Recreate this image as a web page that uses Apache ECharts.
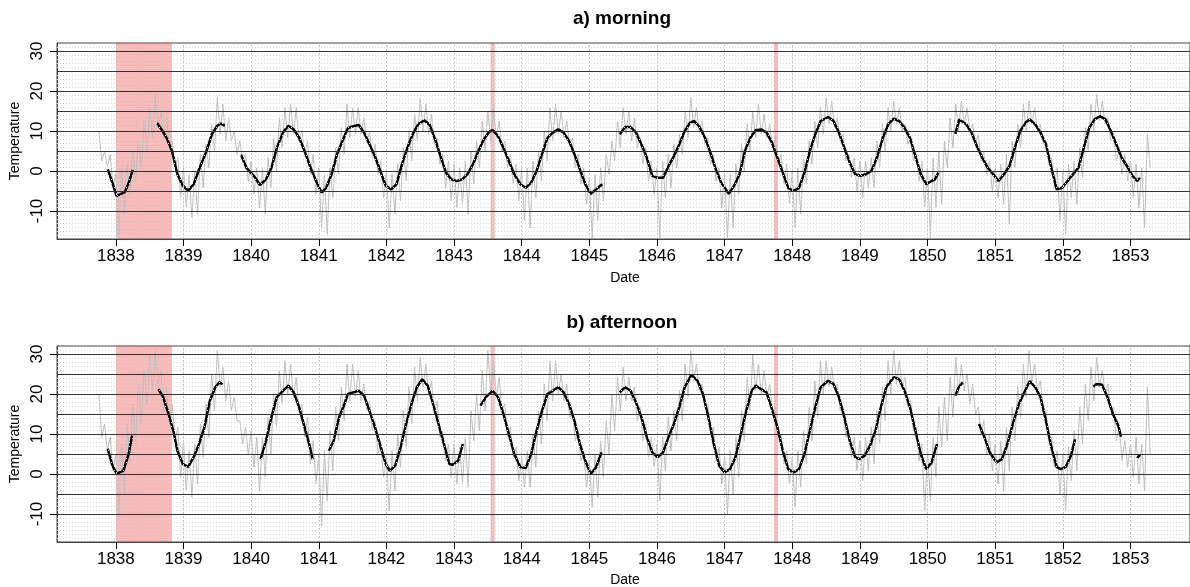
<!DOCTYPE html>
<html>
<head>
<meta charset="utf-8">
<script src="https://cdn.jsdelivr.net/npm/echarts@6/dist/echarts.min.js"></script>
<style>
html, body { margin: 0; padding: 0; background: #fff; }
#chart { width: 1190px; height: 587px; }
</style>
</head>
<body>
<div id="chart"></div>
<script>
// axis ticks
var yearTicks = [1838, 1839, 1840, 1841, 1842, 1843, 1844, 1845, 1846, 1847, 1848, 1849, 1850, 1851, 1852, 1853];
var tempTicks = [-10, 0, 10, 20, 30];

// shaded periods (years)
var bands = [[1838.0, 1838.83], [1843.54, 1843.60], [1847.73, 1847.79]];

// raw series: monthly upper / lower reading of the grey trace, first month 1837.75
var grayStart = 1837.75;
var morningHi = [10, 5, 4,
  -0.8, 0.8, 1.7, 5, 7.5, 12.5, 15.8, 19.2, 15, 13.3, 7.5, 3.3,
  0.8, -0.8, 0, 4.2, 6.7, 11.7, 18.3, 16.7, 13.3, 10, 7.5, 4.2,
  2.5, 0.8, 0.8, 3.3, 8.3, 13.3, 15.8, 16.7, 15.8, 10, 7.5, 4.2,
  0.8, -0.8, 0.8, 5.8, 10.8, 16.7, 15.8, 15.8, 13.3, 10, 6.7, 2.5,
  0, -0.8, 1.7, 5.8, 10, 14.2, 18.3, 16.7, 14.2, 8.3, 4.2, 2.5,
  1.7, 0.8, 2.5, 5, 7.5, 12.5, 15, 15.8, 12.5, 7.5, 4.2, 1.7,
  0.8, 0.8, 2.5, 5, 10, 15.8, 16.7, 15, 12.5, 8.3, 4.2, 0.8,
  -1.7, -0.8, 0.8, 4.2, 7.5, 12.5, 15.8, 15, 13.3, 8.3, 5.8, 2.5,
  0.8, 2.5, 4.2, 6.7, 9.2, 15, 18.3, 15.8, 12.5, 8.3, 4.2, 0.8,
  -0.8, -0.8, 1.7, 6.7, 11.7, 15, 16.7, 14.2, 11.7, 8.3, 4.2, 1.7,
  0, 0.8, 3.3, 7.5, 12.5, 15.8, 18.3, 17.5, 13.3, 9.2, 4.2, 3.3,
  2.5, 2.5, 3.3, 7.5, 11.7, 15.8, 17.5, 15.8, 11.7, 8.3, 4.2, 2.5,
  0.8, 3.3, 5, 7.5, 13.3, 16.7, 17.5, 15.8, 11.7, 9.2, 5, 2.5,
  0.8, 1.7, 4.2, 7.5, 11.7, 16.7, 17.5, 15.8, 11.7, 7.5, 3.3, 0.8,
  0, 1.7, 2.5, 5.8, 10.8, 16.7, 19.2, 17.5, 13.3, 8.3, 5, 4.2,
  2.5, 1.7, 0.8, 9.2];
var morningLo = [2.5, 1, -4,
  -16, -10.8, -5.8, -2.5, 0.8, 5, 8.3, 10.8, 8.3, 5.8, 0.8, -6.7,
  -9.2, -11.7, -10.8, -4.2, 0.8, 5, 9.2, 7.5, 7.5, 4.2, 2.5, -2.5,
  -5.8, -9.2, -10.8, -4.2, 0, 5.8, 8.3, 9.2, 7.5, 4.2, -0.8, -5.8,
  -14.2, -15.8, -6.7, -0.8, 4.2, 8.3, 9.2, 9.2, 6.7, 3.3, -0.8, -6.7,
  -14.2, -10.8, -7.5, -2.5, 2.5, 7.5, 10, 9.2, 6.7, 1.7, -4.2, -7.5,
  -9.2, -8.3, -10.8, -3.3, 0.8, 5, 7.5, 8.3, 5, 0.8, -3.3, -7.5,
  -12.5, -14.2, -6.7, -2.5, 2.5, 7.5, 9.2, 8.3, 6.7, 0.8, -3.3, -8.3,
  -16.7, -12.5, -7.5, -0.8, 2.5, 5.8, 9.2, 7.5, 5.8, 1.7, -2.5, -5.8,
  -16.7, -6.7, -4.2, 0.8, 4.2, 8.3, 10.8, 10, 6.7, 1.7, -2.5, -9.2,
  -16.7, -14.2, -5.8, 0, 5, 8.3, 9.2, 8.3, 5.8, 1.7, -3.3, -8.3,
  -14.2, -10.8, -3.3, 1.7, 5.8, 9.2, 11.7, 10.8, 7.5, 2.5, -1.7, -5,
  -6.7, -4.2, -4.2, 0.8, 5, 10, 11.7, 10, 6.7, 2.5, -2.5, -9.2,
  -16.7, -9.2, -8.3, 0.8, 5.8, 10, 11.7, 10, 6.7, 2.5, -0.8, -5,
  -6.7, -8.3, -13.3, 0.8, 5.8, 10, 11.7, 10, 6.7, 1.7, -4.2, -12.5,
  -15.8, -6.7, -8.3, -1.7, 5, 10, 12.5, 11.7, 7.5, 2.5, -0.8, -2.5,
  -6.7, -9.2, -14.2, 0.8];
var afternoonHi = [20, 12.5, 9.2,
  5, 7.5, 12.5, 17.5, 22.5, 25.8, 30, 30.8, 25.8, 21.7, 17.5, 11.7,
  8.3, 5.8, 7.5, 12.5, 17.5, 25, 30.8, 26.7, 23.3, 19.2, 13.3, 11.7,
  10.8, 9.2, 9.2, 14.2, 20, 25.8, 28.3, 27.5, 24.2, 17.5, 14.2, 8.3,
  5, 5.8, 10.8, 16.7, 21.7, 27.5, 27.5, 25.8, 22.5, 18.3, 13.3, 7.5,
  4.2, 5.8, 10, 15.8, 21.7, 26.7, 29.2, 27.5, 23.3, 18.3, 10.8, 7.5,
  7.5, 6.7, 9.2, 15.8, 20, 25.8, 30.8, 28.3, 24.2, 17.5, 11.7, 6.7,
  4.2, 5.8, 10, 15.8, 22.5, 28.3, 28.3, 25, 22.5, 15.8, 10.8, 5,
  3.3, 5, 8.3, 13.3, 20, 24.2, 26.7, 24.2, 21.7, 16.7, 12.5, 9.2,
  7.5, 9.2, 14.2, 15.8, 20.8, 27.5, 30.8, 27.5, 22.5, 17.5, 11.7, 6.7,
  4.2, 5.8, 9.2, 15.8, 24.2, 30, 27.5, 25.8, 22.5, 16.7, 10, 5.8,
  4.2, 5.8, 10.8, 16.7, 23.3, 28.3, 28.3, 26.7, 22.5, 16.7, 10.8, 9.2,
  8.3, 9.2, 11.7, 15.8, 21.7, 28.3, 30.8, 28.3, 24.2, 18.3, 11.7, 7.5,
  5.8, 9.2, 16.7, 19.2, 24.2, 29.2, 27.5, 25, 22.5, 16.7, 13.3, 10,
  7.5, 8.3, 11.7, 16.7, 21.7, 27.5, 30.8, 27.5, 23.3, 15.8, 9.2, 5.8,
  5, 6.7, 10.8, 16.7, 22.5, 26.7, 29.2, 25.8, 22.5, 16.7, 11.7, 8.3,
  7.5, 9.2, 7.5, 21.7];
var afternoonLo = [9.2, 5.8, 0.8,
  -10.8, -5, 2.5, 7.5, 12.5, 17.5, 20.8, 22.5, 15.8, 12.5, 8.3, -0.8,
  -4.2, -5.8, -2.5, 4.2, 9.2, 15.8, 21.7, 18.3, 15.8, 13.3, 7.5, 5,
  1.7, -4.2, -0.8, 5, 11.7, 17.5, 20, 19.2, 15.8, 9.2, 2.5, -2.5,
  -13.3, -6.7, 0.8, 8.3, 13.3, 18.3, 19.2, 18.3, 15.8, 10.8, 5, -0.8,
  -9.2, -4.2, 1.7, 6.7, 12.5, 18.3, 21.7, 20, 15, 9.2, 3.3, -0.8,
  -2.5, -2.5, -3.3, 8.3, 10.8, 15.8, 20, 19.2, 15.8, 9.2, 4.2, -1.7,
  -3.3, -3.3, 1.7, 7.5, 13.3, 18.3, 20, 18.3, 14.2, 8.3, 3.3, -3.3,
  -8.3, -5.8, -0.8, 5, 10.8, 15.8, 18.3, 18.3, 13.3, 8.3, 4.2, 1.7,
  -6.7, 0.8, 5.8, 8.3, 13.3, 19.2, 23.3, 20.8, 16.7, 10, 3.3, -2.5,
  -10, -5, -0.8, 8.3, 15.8, 20.8, 20, 19.2, 15, 9.2, 2.5, -2.5,
  -8.3, -3.3, 2.5, 8.3, 14.2, 20, 21.7, 20.8, 15.8, 9.2, 4.2, 0.8,
  -1.7, 0.8, 2.5, 7.5, 13.3, 20, 22.5, 21.7, 16.7, 10.8, 3.3, -9.2,
  -6.7, -0.8, 6.7, 8.3, 14.2, 20, 20.8, 17.5, 15, 10, 5, 0.8,
  -2.5, -4.2, 0.8, 8.3, 14.2, 19.2, 22.5, 20.8, 16.7, 8.3, 1.7, -5,
  -9.2, -1.7, 0.8, 7.5, 13.3, 18.3, 21.7, 20, 15.8, 8.3, 3.3, 1.7,
  -0.8, -2.5, -4.2, 5];

// smoothed series, one array of [year, temp] per unbroken piece
var morningSmooth = [
  [[1837.88, 0.4], [1837.95, -3], [1838.01, -6.2], [1838.07, -5.8], [1838.13, -5.3], [1838.19, -3], [1838.25, 0.3]],
  [[1838.61, 12], [1838.69, 10], [1838.75, 8.3], [1838.83, 5], [1838.91, -0.8], [1838.99, -3.7], [1839.07, -4.9], [1839.15, -3.3],
   [1839.24, 0.8], [1839.34, 5], [1839.42, 9.2], [1839.50, 11.3], [1839.55, 11.9], [1839.61, 11.3]],
  [[1839.85, 4.1], [1839.93, 0.8], [1840.04, -1.2], [1840.13, -3.5], [1840.22, -2.1], [1840.30, 0.8], [1840.38, 5.8], [1840.47, 9.6],
   [1840.55, 11.3], [1840.63, 10.4], [1840.71, 8.3], [1840.79, 5], [1840.87, 1.2], [1840.95, -2.1], [1841.04, -5.4], [1841.11, -4.2],
   [1841.19, -0.8], [1841.27, 4.2], [1841.35, 7.5], [1841.43, 10.7], [1841.51, 11.2], [1841.59, 11.5], [1841.67, 9.6], [1841.75, 6.7],
   [1841.83, 3.7], [1841.91, 0], [1841.99, -3.7], [1842.07, -4.6], [1842.15, -3.3], [1842.23, 1.7], [1842.31, 5.8], [1842.39, 9.2],
   [1842.47, 11.7], [1842.56, 12.7], [1842.64, 11.5], [1842.72, 7.9], [1842.80, 3.7], [1842.88, -0.4], [1842.96, -2.1], [1843.04, -2.5],
   [1843.12, -2.1], [1843.20, -0.8], [1843.28, 1.7], [1843.36, 5], [1843.44, 7.9], [1843.52, 9.8], [1843.57, 10.2], [1843.65, 8.7],
   [1843.73, 5.8], [1843.81, 2.5], [1843.89, -0.8], [1843.98, -3.3], [1844.06, -4.2], [1844.14, -2.9], [1844.22, 0], [1844.30, 4.2],
   [1844.38, 8.3], [1844.46, 9.6], [1844.54, 10.4], [1844.62, 9.6], [1844.70, 7.5], [1844.78, 4.2], [1844.86, 0.4], [1844.94, -3.3],
   [1845.02, -5.7], [1845.10, -4.6], [1845.19, -3.3]],
  [[1845.45, 9.2], [1845.53, 11], [1845.61, 11], [1845.69, 9.6], [1845.77, 6.7], [1845.85, 3.3], [1845.93, -1.2], [1846.01, -1.7],
   [1846.09, -1.7], [1846.17, 1.2], [1846.25, 3.7], [1846.33, 6.7], [1846.41, 10], [1846.49, 12.1], [1846.55, 12.5], [1846.63, 11],
   [1846.71, 8.3], [1846.79, 4.6], [1846.87, 0.4], [1846.95, -2.9], [1847.06, -5.7], [1847.14, -3.7], [1847.22, -0.8], [1847.30, 5],
   [1847.38, 8.3], [1847.46, 10.2], [1847.54, 10.4], [1847.62, 9.6], [1847.70, 7.1], [1847.78, 3.3], [1847.86, -0.4], [1847.94, -4.2],
   [1848.02, -5], [1848.10, -4.2], [1848.18, -0.4], [1848.26, 5], [1848.34, 9.2], [1848.42, 12.5], [1848.53, 13.5], [1848.61, 12.5],
   [1848.69, 9.6], [1848.77, 5.8], [1848.85, 2.1], [1848.93, -0.8], [1849.01, -1.2], [1849.09, -0.8], [1849.17, 0], [1849.25, 3.3],
   [1849.34, 8.3], [1849.42, 11.7], [1849.50, 13.1], [1849.58, 12.5], [1849.66, 10.8], [1849.74, 8.3], [1849.82, 3.7], [1849.90, -0.8],
   [1849.98, -3.3], [1850.06, -2.5], [1850.11, -2.1], [1850.16, -0.4]],
  [[1850.41, 9.3], [1850.47, 12.9], [1850.57, 11.7], [1850.65, 9.6], [1850.73, 6.2], [1850.81, 3.3], [1850.89, 0.8], [1850.97, -0.8],
   [1851.05, -2.5], [1851.13, -0.8], [1851.21, 1.2], [1851.29, 5.8], [1851.37, 10], [1851.45, 12.1], [1851.51, 12.9], [1851.59, 11.7],
   [1851.67, 9.6], [1851.75, 6.7], [1851.83, 0.8], [1851.91, -4.6], [1851.99, -4.2], [1852.07, -2.5], [1852.15, -0.8], [1852.23, 0.8],
   [1852.31, 5.8], [1852.39, 10.8], [1852.47, 12.9], [1852.55, 13.7], [1852.63, 12.9], [1852.71, 10], [1852.79, 6.7], [1852.87, 3.3],
   [1852.95, 1.2], [1853.03, -1.2], [1853.10, -2.5], [1853.14, -1.7]]
];
var afternoonSmooth = [
  [[1837.88, 6.3], [1837.95, 2.1], [1838.01, 0.1], [1838.11, 0.8], [1838.19, 5], [1838.24, 9.6]],
  [[1838.63, 21.2], [1838.70, 19.2], [1838.78, 15], [1838.85, 10.8], [1838.91, 5.8], [1838.99, 2.5], [1839.07, 1.8], [1839.15, 4.2],
   [1839.23, 7.5], [1839.31, 11.7], [1839.39, 18.3], [1839.47, 21.7], [1839.53, 22.9], [1839.58, 22.5]],
  [[1840.14, 3.7], [1840.22, 8.3], [1840.30, 14.2], [1840.38, 19.2], [1840.47, 20.8], [1840.55, 22.1], [1840.63, 20.4], [1840.71, 16.7],
   [1840.79, 11.7], [1840.87, 6.7], [1840.91, 3.7]],
  [[1841.15, 5.8], [1841.22, 8.3], [1841.30, 14.2], [1841.38, 17.5], [1841.43, 20], [1841.51, 20.4], [1841.59, 20.8], [1841.67, 19.6],
   [1841.75, 15.8], [1841.83, 11.7], [1841.91, 7.1], [1841.99, 2.5], [1842.05, 0.8], [1842.13, 2.1], [1842.21, 6.7], [1842.29, 12.5],
   [1842.37, 17.5], [1842.45, 21.7], [1842.53, 23.7], [1842.61, 22.1], [1842.69, 17.5], [1842.77, 12.5], [1842.85, 7.5], [1842.93, 2.5],
   [1842.98, 2.3], [1843.06, 3.3], [1843.13, 7.5]],
  [[1843.39, 17.1], [1843.47, 19.2], [1843.57, 20.8], [1843.65, 19.2], [1843.73, 15], [1843.81, 10], [1843.89, 5], [1843.98, 1.7],
   [1844.06, 1.5], [1844.14, 5], [1844.22, 10.8], [1844.30, 15.8], [1844.38, 20], [1844.46, 20.8], [1844.54, 21.7], [1844.62, 20.4],
   [1844.70, 17.5], [1844.78, 13.3], [1844.86, 7.5], [1844.94, 3.3], [1845.02, 0], [1845.10, 1.7], [1845.18, 5.4]],
  [[1845.45, 20.4], [1845.53, 21.7], [1845.61, 20.8], [1845.69, 17.9], [1845.77, 14.2], [1845.85, 9.2], [1845.93, 5.4], [1846.01, 4.2],
   [1846.09, 5.4], [1846.17, 9.2], [1846.25, 12.5], [1846.33, 16.7], [1846.41, 21.7], [1846.51, 24.8], [1846.60, 23.3], [1846.68, 20],
   [1846.76, 14.2], [1846.84, 7.5], [1846.92, 2.1], [1847.00, 0.4], [1847.08, 1.2], [1847.16, 4.2], [1847.24, 10], [1847.32, 15.8],
   [1847.40, 20.8], [1847.46, 22.1], [1847.54, 21.2], [1847.62, 20.4], [1847.70, 16.2], [1847.78, 11.7], [1847.86, 5.8], [1847.94, 1.2],
   [1848.02, 0.4], [1848.10, 1.2], [1848.18, 5], [1848.26, 10.8], [1848.34, 16.7], [1848.42, 21.7], [1848.53, 23.3], [1848.61, 22.5],
   [1848.69, 19.2], [1848.77, 14.2], [1848.85, 8.3], [1848.93, 4.2], [1848.99, 3.7], [1849.07, 4.6], [1849.15, 7.1], [1849.23, 10.8],
   [1849.31, 16.7], [1849.39, 21.7], [1849.50, 24.2], [1849.58, 23.7], [1849.66, 20.8], [1849.74, 16.7], [1849.82, 10.8], [1849.90, 5],
   [1849.98, 1.2], [1850.06, 2.9], [1850.14, 7.5]],
  [[1850.41, 19.6], [1850.46, 21.7], [1850.52, 22.9]],
  [[1850.76, 12.5], [1850.84, 9.2], [1850.92, 5.4], [1851.02, 2.9], [1851.10, 3.7], [1851.18, 7.5], [1851.26, 12.5], [1851.35, 17.5],
   [1851.43, 20.4], [1851.51, 23.2], [1851.59, 21.7], [1851.67, 19.2], [1851.75, 13.3], [1851.83, 6.7], [1851.91, 1.7], [1851.97, 1.2],
   [1852.04, 1.7], [1852.12, 4.6], [1852.18, 8.7]],
  [[1852.45, 21.8], [1852.50, 22.5], [1852.58, 22.3], [1852.66, 19.2], [1852.74, 15], [1852.82, 12.1], [1852.86, 9.3]],
  [[1853.10, 4], [1853.14, 4.8]]
];

var FONT = 'Liberation Sans, Arial, sans-serif';
var xMin = 1837.13, xMax = 1853.88;
var yMin = -17, yMax = 32;

var chart = echarts.init(document.getElementById('chart'));

// grey raw trace: upper reading, then lower reading half a month later
function rawTrace(hi, lo) {
  var d = [];
  for (var i = 0; i < hi.length; i++) {
    var t = grayStart + i / 12;
    d.push([t, hi[i]]);
    d.push([t + 1 / 24, lo[i]]);
  }
  return d;
}

function gridLines() {
  var d = [];
  for (var v = yMin + 1; v < yMax; v++) {
    var solid = v % 5 === 0 && v >= -10 && v <= 30;
    d.push({
      yAxis: v,
      lineStyle: solid ? { color: '#333', width: 1, type: 'solid' } : { color: '#d6d6d6', width: 1, type: [1, 2] }
    });
  }
  yearTicks.forEach(function (y) {
    d.push({ xAxis: y, lineStyle: { color: '#c4c4c4', width: 1, type: [2, 2] } });
  });
  return d;
}

var grids = [], xAxes = [], yAxes = [], series = [];
var tops = [43, 346];
var raw = [[morningHi, morningLo], [afternoonHi, afternoonLo]];
var smooth = [morningSmooth, afternoonSmooth];

for (var g = 0; g < 2; g++) {
  grids.push({ left: 57, right: -1, top: tops[g], height: 196, show: true, borderColor: '#444', borderWidth: 1 });
  xAxes.push({
    type: 'value', gridIndex: g, min: xMin, max: xMax,
    axisLine: { show: true, onZero: false, lineStyle: { color: '#444' } },
    axisTick: { show: true, length: 7, lineStyle: { color: '#000' }, customValues: yearTicks },
    axisLabel: {
      customValues: yearTicks, color: '#000', fontSize: 17, fontFamily: FONT, margin: 9,
      formatter: function (v) { return String(Math.round(v)); }
    },
    splitLine: { show: false }
  });
  yAxes.push({
    type: 'value', gridIndex: g, min: yMin, max: yMax,
    axisLine: { show: true, onZero: false, lineStyle: { color: '#444' } },
    axisTick: { show: true, length: 7, lineStyle: { color: '#000' }, customValues: tempTicks },
    axisLabel: { customValues: tempTicks, rotate: 90, color: '#000', fontSize: 17, fontFamily: FONT, margin: 11 },
    splitLine: { show: false }
  });
  // background grid
  series.push({
    type: 'line', xAxisIndex: g, yAxisIndex: g, data: [[1845, 0]], symbol: 'none',
    lineStyle: { opacity: 0 }, z: 1, silent: true,
    markLine: { silent: true, symbol: ['none', 'none'], label: { show: false }, animation: false, data: gridLines() }
  });
  series.push({
    type: 'line', xAxisIndex: g, yAxisIndex: g, data: rawTrace(raw[g][0], raw[g][1]),
    symbol: 'none', lineStyle: { color: '#bebebe', width: 1 }, z: 2, silent: true
  });
  smooth[g].forEach(function (seg) {
    series.push({
      type: 'line', xAxisIndex: g, yAxisIndex: g, data: seg, symbol: 'none',
      lineStyle: { color: '#000', width: 2.5 }, z: 3, silent: true
    });
  });
  series.push({
    type: 'line', xAxisIndex: g, yAxisIndex: g, data: [[1845, 0]], symbol: 'none',
    lineStyle: { opacity: 0 }, z: 5, silent: true,
    markArea: {
      silent: true, itemStyle: { color: 'rgba(240,60,60,0.36)' }, label: { show: false },
      data: bands.map(function (b) { return [{ xAxis: b[0] }, { xAxis: b[1] }]; })
    }
  });
}

function txt(s, x, y, size, bold, rot) {
  return {
    type: 'text', x: x, y: y, rotation: rot || 0, silent: true,
    style: {
      text: s, fill: '#000', font: (bold ? 'bold ' : '') + size + 'px ' + FONT,
      align: 'center', verticalAlign: 'middle', textAlign: 'center', textVerticalAlign: 'middle'
    }
  };
}

chart.setOption({
  animation: false,
  backgroundColor: '#fff',
  grid: grids,
  xAxis: xAxes,
  yAxis: yAxes,
  series: series,
  graphic: [
    txt('a) morning', 622, 19, 19, true),
    txt('b) afternoon', 622, 323, 19, true),
    txt('Date', 625, 278, 14, false),
    txt('Date', 625, 580, 14, false),
    txt('Temperature', 15, 141, 14, false, Math.PI / 2),
    txt('Temperature', 15, 444, 14, false, Math.PI / 2)
  ]
});
</script>
</body>
</html>
